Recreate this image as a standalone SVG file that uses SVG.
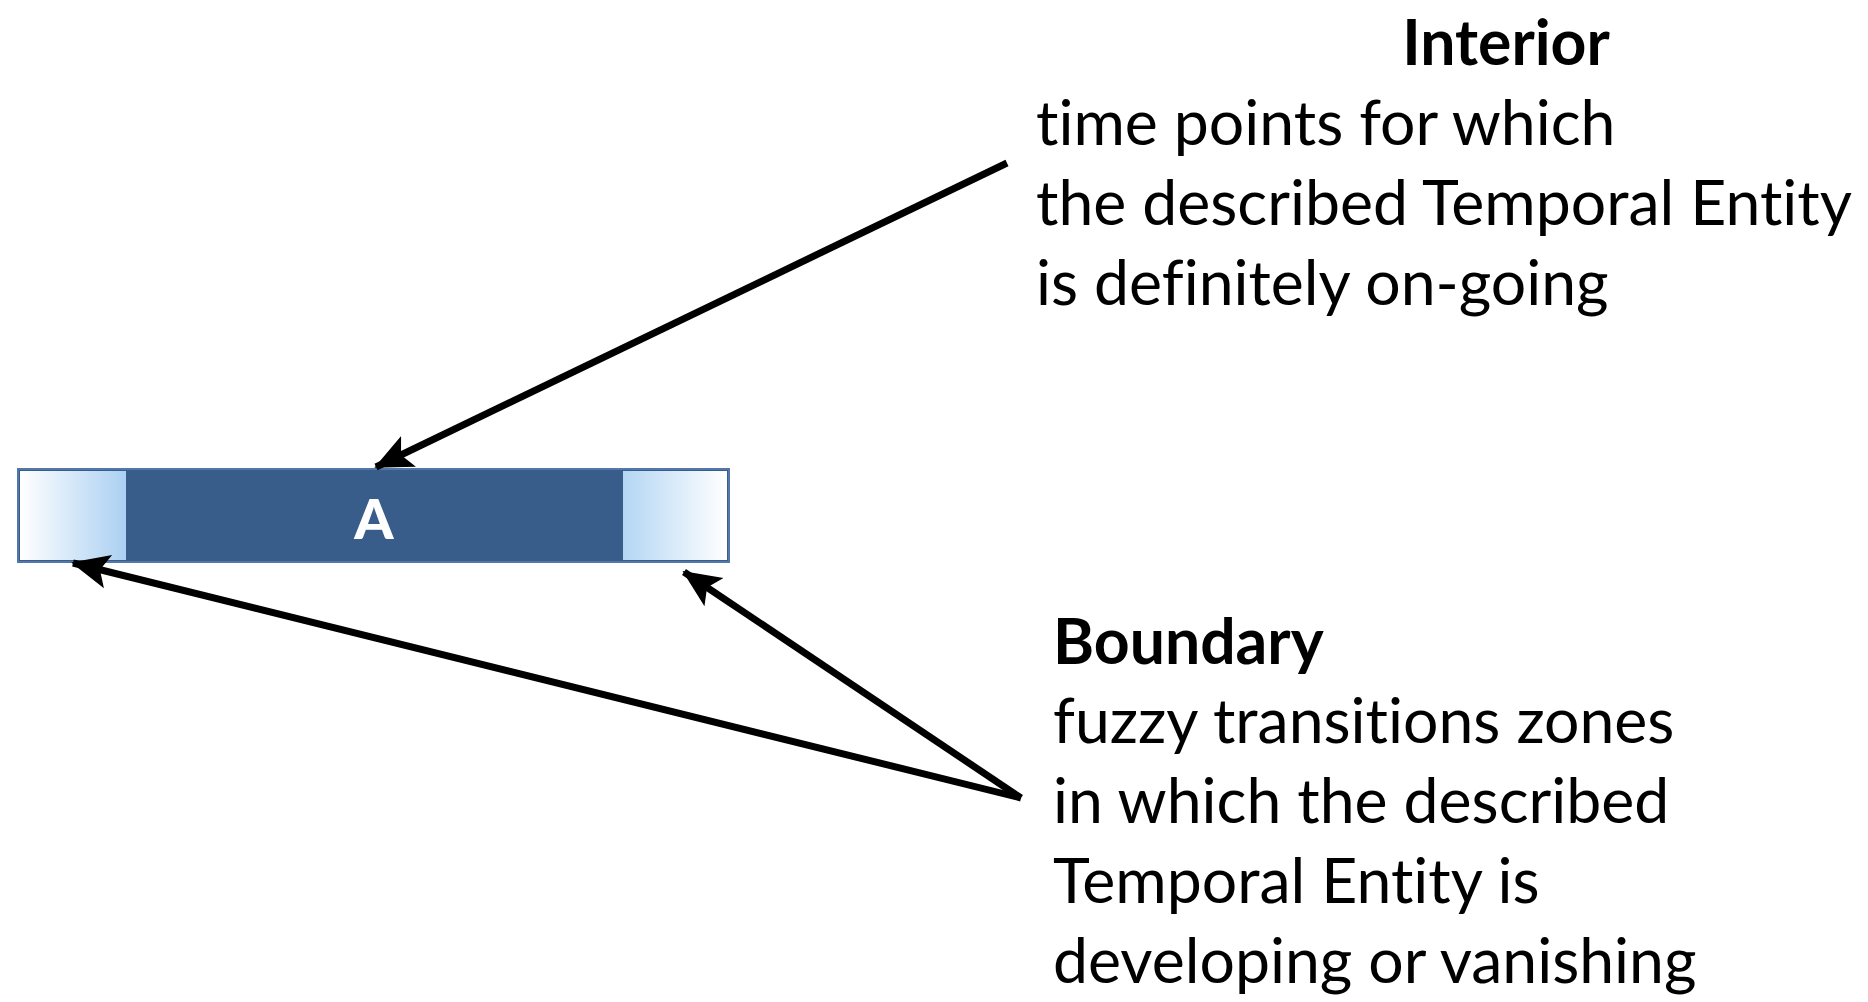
<svg xmlns="http://www.w3.org/2000/svg" width="1868" height="1002" viewBox="0 0 1868 1002">
<style>
.t{font-family:Lato,"Liberation Sans",sans-serif;font-size:62.5px;fill:#000;font-variant-ligatures:none;font-feature-settings:"liga" 0}
.b{font-weight:bold}
</style>
<defs>
<linearGradient id="gl" x1="0" y1="0" x2="1" y2="0">
<stop offset="0" stop-color="#ffffff"/><stop offset="1" stop-color="#abd0f2"/>
</linearGradient>
<linearGradient id="gr" x1="0" y1="0" x2="1" y2="0">
<stop offset="0" stop-color="#b4d6f4"/><stop offset="1" stop-color="#ffffff"/>
</linearGradient>
<marker id="ah" viewBox="0 0 10 10" refX="9.5" refY="5" markerWidth="38" markerHeight="38" orient="auto" markerUnits="userSpaceOnUse">
<path d="M0,0.5 L10,5 L0,9.5 L2.2,5 z" fill="#000"/>
</marker>
</defs>
<rect width="1868" height="1002" fill="#fff"/>
<g id="bar">
<rect x="18" y="469" width="711" height="93" fill="#395d8a" stroke="#5278ab" stroke-width="2"/>
<rect x="20" y="471" width="106" height="89" fill="url(#gl)"/>
<rect x="623" y="471" width="104" height="89" fill="url(#gr)"/>
<text x="374" y="539" text-anchor="middle" style="font-family:Lato,'Liberation Sans',sans-serif;font-weight:900;font-size:56px;fill:#fff">A</text>
</g>
<g id="interior">
<text class="t b" x="1506" y="65" text-anchor="middle">Interior</text>
<text class="t" x="1036" y="145">time points for which</text>
<text class="t" x="1036" y="225">the described Temporal Entity</text>
<text class="t" x="1036" y="305">is definitely on-going</text>
</g>
<g id="boundary">
<text class="t b" x="1053" y="664">Boundary</text>
<text class="t" x="1053" y="743">fuzzy transitions zones</text>
<text class="t" x="1053" y="823">in which the described</text>
<text class="t" x="1053" y="903">Temporal Entity is</text>
<text class="t" x="1053" y="983">developing or vanishing</text>
</g>
<g id="connectors" stroke="#000" stroke-width="7" fill="none">
<line x1="1007" y1="163" x2="376" y2="467" marker-end="url(#ah)"/>
<line x1="1021" y1="798" x2="73" y2="563" marker-end="url(#ah)"/>
<line x1="1021" y1="798" x2="684" y2="572" marker-end="url(#ah)"/>
</g>
</svg>
